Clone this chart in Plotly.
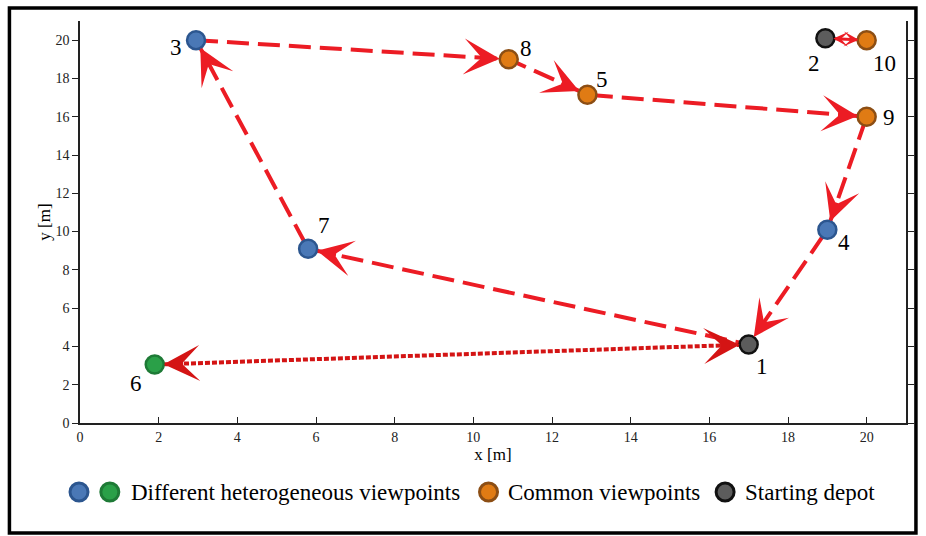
import plotly.graph_objects as go
import math

# ---------------- data ----------------
node_ids = ["1", "2", "3", "4", "5", "6", "7", "8", "9", "10"]
node_x = [17.0, 18.95, 2.95, 19.0, 12.9, 1.9, 5.8, 10.9, 20.0, 20.0]
node_y = [4.1, 20.1, 20.0, 10.1, 17.15, 3.05, 9.1, 19.0, 16.0, 20.0]
node_type = ["depot", "depot", "hetero", "hetero", "common", "green", "hetero", "common", "common", "common"]

tour_order = ["3", "8", "5", "9", "4", "1", "7", "3"]
dotted_pair = ["1", "6"]
short_pair = ["2", "10"]

x_ticks = list(range(0, 21, 2))
y_ticks = list(range(0, 21, 2))

legend_labels = ["Different heterogeneous viewpoints", "Common viewpoints", "Starting depot"]

# ---------------- styling ----------------
W, H = 926, 536
ML, MR, MT, MB = 80, 15, 21, 113
PW, PH = W - ML - MR, H - MT - MB
XR, YR = [0, 21], [0, 21]
SX = PW / (XR[1] - XR[0])
SY = PH / (YR[1] - YR[0])

FILL = {"hetero": "#4a78b6", "common": "#e07b14", "green": "#2aa048", "depot": "#5c5c5c"}
EDGE = {"hetero": "#2c568f", "common": "#8c4e14", "green": "#1e7a36", "depot": "#111111"}
RED = "#ec1c24"
DRED = "#d41414"
SERIF = "'Liberation Serif', 'DejaVu Serif', serif"

idx = {n: i for i, n in enumerate(node_ids)}


def px2paper(px, py):
    return (px - ML) / PW, (MT + PH - py) / PH


fig = go.Figure()

# tour (dashed)
fig.add_trace(go.Scatter(
    x=[node_x[idx[n]] for n in tour_order],
    y=[node_y[idx[n]] for n in tour_order],
    mode="lines", line=dict(color=RED, width=4, dash="22px,9px"),
    hoverinfo="skip", showlegend=False))

# dotted 1 <-> 6
fig.add_trace(go.Scatter(
    x=[node_x[idx[n]] for n in dotted_pair],
    y=[node_y[idx[n]] for n in dotted_pair],
    mode="lines", line=dict(color=DRED, width=4, dash="5px,2px"),
    hoverinfo="skip", showlegend=False))

# short 2 <-> 10
fig.add_trace(go.Scatter(
    x=[node_x[idx[n]] for n in short_pair],
    y=[node_y[idx[n]] for n in short_pair],
    mode="lines", line=dict(color=RED, width=3),
    hoverinfo="skip", showlegend=False))

# nodes
for t in ["hetero", "green", "common", "depot"]:
    ii = [i for i, tt in enumerate(node_type) if tt == t]
    fig.add_trace(go.Scatter(
        x=[node_x[i] for i in ii], y=[node_y[i] for i in ii],
        mode="markers",
        marker=dict(size=18, color=FILL[t], line=dict(color=EDGE[t], width=2.5)),
        hoverinfo="skip", showlegend=False))

annotations = []


def arrow(a, b, size=2.0, width=3, L=30, standoff=9, color=RED):
    ia, ib = idx[a], idx[b]
    dx = (node_x[ia] - node_x[ib]) * SX
    dy = -(node_y[ia] - node_y[ib]) * SY
    d = math.hypot(dx, dy)
    L = min(L, d * 0.9)
    annotations.append(dict(
        x=node_x[ib], y=node_y[ib], xref="x", yref="y",
        ax=dx / d * L, ay=dy / d * L, axref="pixel", ayref="pixel",
        showarrow=True, arrowhead=3, arrowsize=size, arrowwidth=width,
        arrowcolor=color, standoff=standoff, text=""))


for a, b in zip(tour_order[:-1], tour_order[1:]):
    arrow(a, b)
arrow("1", "6", color=DRED)
arrow("6", "1", color=DRED)
arrow("2", "10", size=1.0, width=2.5, L=14, standoff=8)
arrow("10", "2", size=1.0, width=2.5, L=14, standoff=8)

# node labels
label_shift = {
    "1": (13, -22), "2": (-11, -25), "3": (-20, -7), "4": (17, -13), "5": (15, 15),
    "6": (-19, -19), "7": (16, 23), "8": (17, 11), "9": (22, -1), "10": (18, -23),
}
for i, n in enumerate(node_ids):
    sx, sy = label_shift[n]
    annotations.append(dict(
        x=node_x[i], y=node_y[i], xref="x", yref="y", text=n, showarrow=False,
        xshift=sx, yshift=sy, font=dict(family=SERIF, size=23, color="black")))

# legend (custom)
shapes = []
leg_y = 492
markers = [(79, "hetero"), (110, "green"), (491, "common"), (729, "depot")]
for px, t in markers:
    xp, yp = px2paper(px, leg_y)
    shapes.append(dict(type="circle", xref="paper", yref="paper",
                       xsizemode="pixel", ysizemode="pixel",
                       xanchor=xp, yanchor=yp, x0=-9, x1=9, y0=-9, y1=9,
                       fillcolor=FILL[t], line=dict(color=EDGE[t], width=3)))
for px, txt in zip([129, 509, 747], legend_labels):
    xp, yp = px2paper(px, leg_y)
    annotations.append(dict(x=xp, y=yp, xref="paper", yref="paper", text=txt,
                            showarrow=False, xanchor="left", yanchor="middle",
                            font=dict(family=SERIF, size=23, color="black")))

# outer frame
x0, y0 = px2paper(9, 533)
x1, y1 = px2paper(921, 8)
shapes.append(dict(type="rect", xref="paper", yref="paper", x0=x0, y0=y0, x1=x1, y1=y1,
                   line=dict(color="black", width=3.5), fillcolor="rgba(0,0,0,0)", layer="above"))

fig.update_layout(
    width=W, height=H, margin=dict(l=ML, r=MR, t=MT, b=MB),
    paper_bgcolor="white", plot_bgcolor="white",
    font=dict(family=SERIF, color="black"),
    annotations=annotations, shapes=shapes,
    xaxis=dict(range=XR, tickvals=x_ticks, ticks="inside", ticklen=6, tickcolor="#222",
               showline=True, linecolor="#222", linewidth=1.5, mirror=False,
               showgrid=False, zeroline=False,
               tickfont=dict(family=SERIF, size=14, color="#222"),
               title=dict(text="x [m]", font=dict(family=SERIF, size=17), standoff=1)),
    yaxis=dict(range=YR, tickvals=y_ticks, ticks="outside", ticklen=6, tickcolor="#222",
               showline=True, linecolor="#222", linewidth=1.5, mirror="ticks",
               showgrid=False, zeroline=False,
               tickfont=dict(family=SERIF, size=14, color="#222"),
               title=dict(text="y [m]", font=dict(family=SERIF, size=17), standoff=1)),
)

fig.write_html("out.html")
